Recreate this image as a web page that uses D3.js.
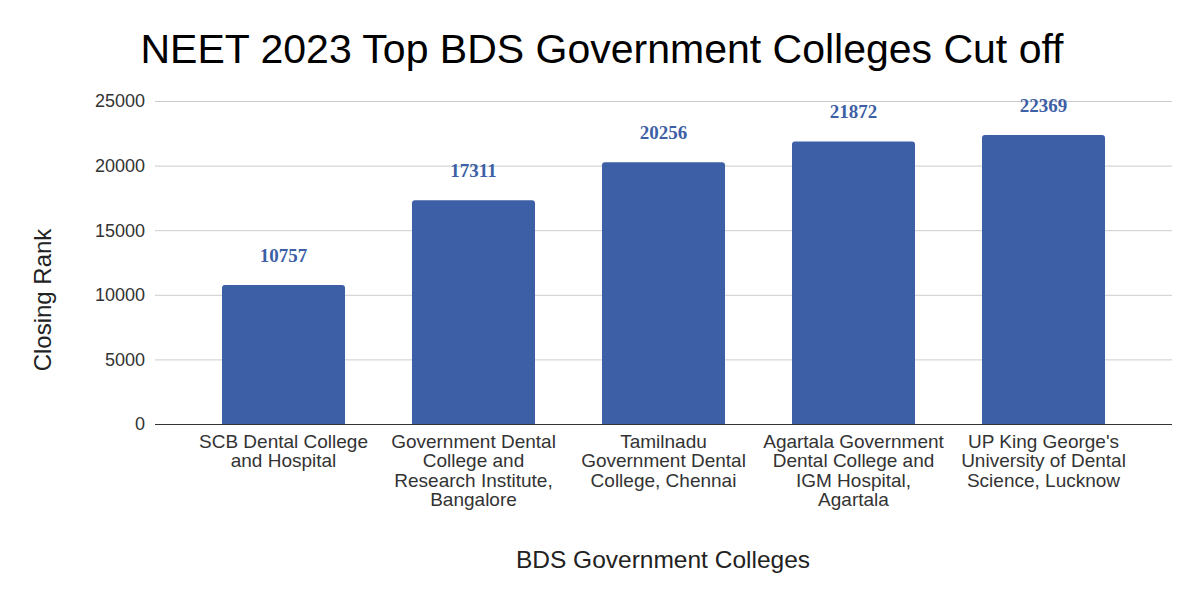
<!DOCTYPE html>
<html><head><meta charset="utf-8">
<script src="https://cdn.jsdelivr.net/npm/d3@7"></script>
<style>body{margin:0;background:#fff;}svg{display:block;}</style>
</head><body>
<script>
const categories = [
  "SCB Dental College and Hospital",
  "Government Dental College and Research Institute, Bangalore",
  "Tamilnadu Government Dental College, Chennai",
  "Agartala Government Dental College and IGM Hospital, Agartala",
  "UP King George's University of Dental Science, Lucknow"
];
const categoryLines = [
  ["SCB Dental College", "and Hospital"],
  ["Government Dental", "College and", "Research Institute,", "Bangalore"],
  ["Tamilnadu", "Government Dental", "College, Chennai"],
  ["Agartala Government", "Dental College and", "IGM Hospital,", "Agartala"],
  ["UP King George's", "University of Dental", "Science, Lucknow"]
];
const closingRank = [10757, 17311, 20256, 21872, 22369];
const yTicks = [0, 5000, 10000, 15000, 20000, 25000];
const title = "NEET 2023 Top BDS Government Colleges Cut off";
const xTitle = "BDS Government Colleges";
const yTitle = "Closing Rank";

const W = 1200, H = 601;
const FONT = "'Liberation Sans', Arial, sans-serif";
const svg = d3.select("body").append("svg").attr("width", W).attr("height", H);
svg.append("rect").attr("width", W).attr("height", H).attr("fill", "#fff");

const gridL = 155, gridR = 1172;
const x = d3.scaleBand().domain(categories).range([188.5, 1138.5]).padding(0);
const barW = 123;
const y = d3.scaleLinear().domain([0, 25000]).range([424, 101]);

// gridlines
svg.append("g").selectAll("line").data(yTicks.filter(d => d > 0)).join("line")
  .attr("x1", gridL).attr("x2", gridR)
  .attr("y1", d => y(d) + 0.5).attr("y2", d => y(d) + 0.5)
  .attr("stroke", "#cccccc").attr("stroke-width", 1);

// y tick labels
svg.append("g").selectAll("text").data(yTicks).join("text")
  .attr("x", 145).attr("y", d => y(d)).attr("dy", "0.36em")
  .attr("text-anchor", "end")
  .attr("font-family", FONT).attr("font-size", 18)
  .attr("fill", "#333").text(d => d);

// bars with rounded top corners
const r = 3;
svg.append("g").selectAll("path").data(closingRank).join("path")
  .attr("d", (d, i) => {
    const cx = x(categories[i]) + x.bandwidth() / 2;
    const x0 = cx - barW / 2, x1 = cx + barW / 2, y0 = y(d), yb = y(0);
    return `M${x0},${yb}V${y0 + r}Q${x0},${y0} ${x0 + r},${y0}H${x1 - r}Q${x1},${y0} ${x1},${y0 + r}V${yb}Z`;
  })
  .attr("fill", "#3d5fa6");

// baseline
svg.append("line").attr("x1", gridL).attr("x2", gridR)
  .attr("y1", y(0) + 0.5).attr("y2", y(0) + 0.5)
  .attr("stroke", "#333").attr("stroke-width", 1.2);

// value labels
svg.append("g").selectAll("text").data(closingRank).join("text")
  .attr("x", (d, i) => x(categories[i]) + x.bandwidth() / 2)
  .attr("y", d => y(d) - 23)
  .attr("text-anchor", "middle")
  .attr("font-family", "'Liberation Serif', 'Times New Roman', serif")
  .attr("font-weight", "bold").attr("font-size", 19)
  .attr("fill", "#3d5fa6").text(d => d);

// x category labels
const xl = svg.append("g");
categories.forEach((c, i) => {
  const cx = x(c) + x.bandwidth() / 2;
  const t = xl.append("text")
    .attr("x", cx).attr("y", 448)
    .attr("text-anchor", "middle")
    .attr("font-family", FONT).attr("font-size", 19)
    .attr("fill", "#333");
  categoryLines[i].forEach((ln, j) => {
    t.append("tspan").attr("x", cx).attr("y", 448 + j * 19.3).text(ln);
  });
});

// title
svg.append("text").attr("x", 602).attr("y", 63).attr("text-anchor", "middle")
  .attr("font-family", FONT).attr("font-size", 41)
  .attr("fill", "#000").text(title);

// axis titles
svg.append("text").attr("x", 663).attr("y", 568).attr("text-anchor", "middle")
  .attr("font-family", FONT).attr("font-size", 24.5)
  .attr("fill", "#222").text(xTitle);
svg.append("text").attr("transform", "translate(51,300) rotate(-90)").attr("text-anchor", "middle")
  .attr("font-family", FONT).attr("font-size", 24)
  .attr("fill", "#222").text(yTitle);
</script>
</body></html>
